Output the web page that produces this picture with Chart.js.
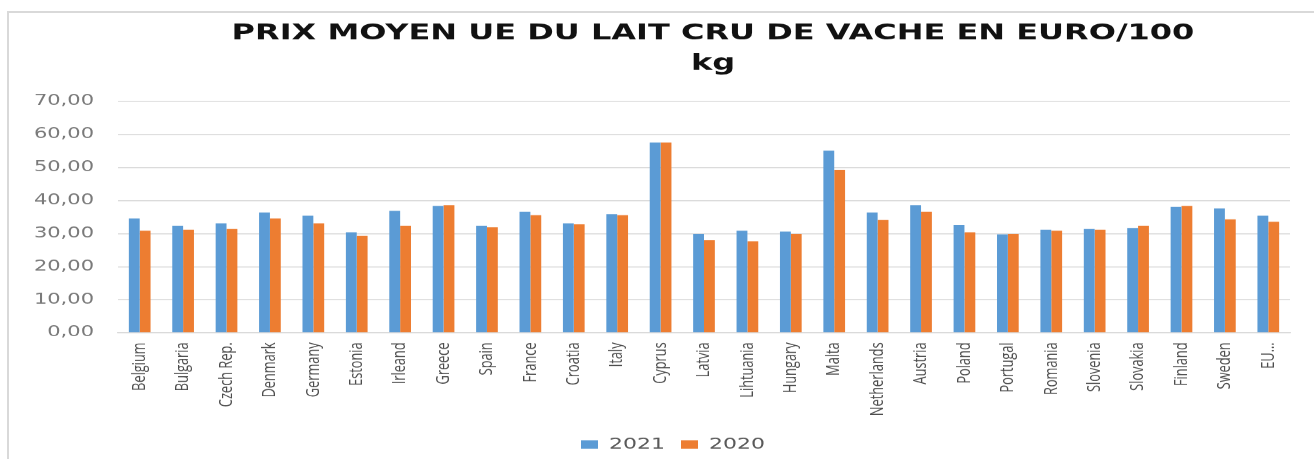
<!DOCTYPE html>
<html>
<head>
<meta charset="utf-8">
<script src="https://cdn.jsdelivr.net/npm/chart.js@4.4.1/dist/chart.umd.min.js"></script>
<style>
html, body { margin:0; padding:0; background:#fff; overflow:hidden; width:1314px; height:459px; }
#frame { position:absolute; left:7px; top:11px; width:1400px; height:600px; border-top:2px solid #d9d9d9; border-left:2px solid #d9d9d9; }
#wrap { position:absolute; left:0; top:0; width:1314px; height:665px; transform:scaleY(0.690226); transform-origin:0 0; }
canvas { display:block; }
</style>
</head>
<body>
<div id="frame"></div>
<div id="wrap"><canvas id="c" width="1314" height="665" style="width:1314px;height:665px"></canvas></div>
<script>
const categories = ['Belgium','Bulgaria','Czech Rep.','Denmark','Germany','Estonia','Irleand','Greece','Spain','France','Croatia','Italy','Cyprus','Latvia','Lihtuania','Hungary','Malta','Netherlands','Austria','Poland','Portugal','Romania','Slovenia','Slovakia','Finland','Sweden','EU…'];
const values2021 = [34.6, 32.4, 33.1, 36.4, 35.4, 30.4, 36.9, 38.4, 32.4, 36.6, 33.1, 35.9, 57.6, 29.9, 30.9, 30.6, 55.1, 36.4, 38.6, 32.6, 29.8, 31.2, 31.4, 31.7, 38.1, 37.6, 35.4];
const values2020 = [30.9, 31.2, 31.4, 34.6, 33.1, 29.3, 32.4, 38.6, 31.9, 35.6, 32.8, 35.6, 57.6, 28.0, 27.7, 29.9, 49.3, 34.1, 36.6, 30.4, 29.9, 30.9, 31.2, 32.4, 38.4, 34.3, 33.6];
const seriesNames = ['2021', '2020'];
const yTickLabels = ['0,00','10,00','20,00','30,00','40,00','50,00','60,00','70,00'];
const titleLines = ['PRIX MOYEN UE DU LAIT CRU DE VACHE EN EURO/100', 'kg'];

const placeBlocks = {
  id: 'placeBlocks',
  afterLayout(chart) {
    const t = chart.titleBlock;
    if (t) { t.right = 1314; t.left = 2 * 713 - 1314; }
    const l = chart.legend;
    if (l && l.lineWidths) {
      const P = l.options.labels.padding;
      const lw = l.lineWidths[0];
      const W = l.right - l.left;
      const targetX = 581;
      const sum = 2 * targetX - P + lw;
      const left = (sum - W) / 2;
      l.left = left; l.right = left + W;
    }
  }
};

new Chart(document.getElementById('c'), {
  type: 'bar',
  data: {
    labels: categories,
    datasets: [
      { label: seriesNames[0], data: values2021, backgroundColor: '#5B9BD5', borderWidth: 0, categoryPercentage: 0.5, barPercentage: 1.0 },
      { label: seriesNames[1], data: values2020, backgroundColor: '#ED7D31', borderWidth: 0, categoryPercentage: 0.5, barPercentage: 1.0 }
    ]
  },
  options: {
    responsive: false,
    animation: false,
    devicePixelRatio: 1,
    layout: { padding: { left: 0, right: 24, top: 0, bottom: 0 } },
    plugins: {
      title: {
        display: true,
        text: titleLines,
        color: '#111',
        font: { family: 'DejaVu Sans', weight: 'bold', size: 32, lineHeight: 1.36 },
        padding: { top: 27, bottom: 33 }
      },
      legend: {
        position: 'bottom',
        labels: { boxWidth: 17, boxHeight: 12, padding: 16, color: '#595959', font: { family: 'DejaVu Sans', size: 22 } }
      },
      tooltip: { enabled: false }
    },
    scales: {
      x: {
        grid: { display: false, drawTicks: false },
        border: { display: true, color: '#d9d9d9', width: 1.5 },
        ticks: { minRotation: 90, maxRotation: 90, autoSkip: false, padding: 14, color: '#4d4d4d', font: { family: 'Open Sans', size: 18.5 } },
        afterFit(a) { a.height = 135; }
      },
      y: {
        min: 0, max: 70,
        ticks: { stepSize: 10, padding: 24, color: '#7a7a7a', font: { family: 'DejaVu Sans', size: 21 }, callback: (v, i) => yTickLabels[i] },
        grid: { color: '#d9d9d9', lineWidth: 1.5, drawTicks: false },
        border: { display: false },
        afterFit(a) { a.width = 118; }
      }
    }
  },
  plugins: [placeBlocks]
});
</script>
</body>
</html>
